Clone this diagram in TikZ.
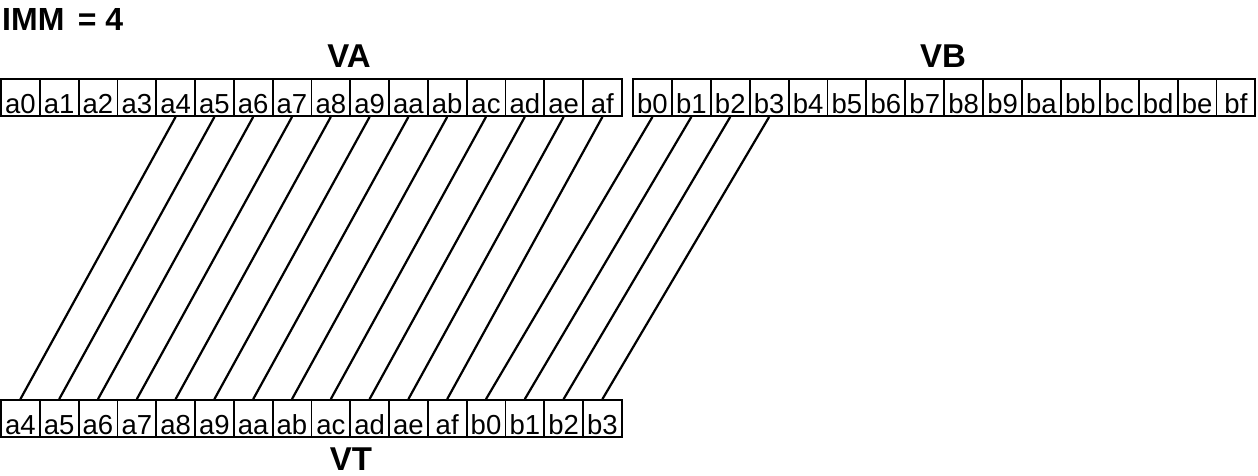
\documentclass[tikz,border=0pt]{standalone}
\usepackage{fontspec}
\setmainfont{Liberation Sans}
\usetikzlibrary{positioning}

\begin{document}
\begin{tikzpicture}[x=1pt,y=-1pt,
 cell/.style={draw,line width=1.8pt,minimum width=38.8pt,minimum height=37pt,inner sep=0pt,
   font=\fontsize{27.5}{32}\selectfont,text height=31pt,text depth=0pt},
 title/.style={font=\fontsize{33}{38}\selectfont\bfseries,anchor=base,inner sep=0pt,text depth=0pt},
 link/.style={line width=2.2pt}]
\useasboundingbox (0,0) rectangle (1258,475);
% source and result registers
\foreach \t [count=\i from 0] in {a0,a1,a2,a3,a4,a5,a6,a7,a8,a9,aa,ab,ac,ad,ae,af}
  \node[cell] (va\i) at ({1+38.8*(\i+0.5)},97.5) {\t};
\foreach \t [count=\i from 0] in {b0,b1,b2,b3,b4,b5,b6,b7,b8,b9,ba,bb,bc,bd,be,bf}
  \node[cell] (vb\i) at ({633+38.9*(\i+0.5)},97.5) {\t};
\foreach \t [count=\i from 0] in {a4,a5,a6,a7,a8,a9,aa,ab,ac,ad,ae,af,b0,b1,b2,b3}
  \node[cell] (vt\i) at ({1+38.8*(\i+0.5)},418.5) {\t};
% labels
\node[title,anchor=base west,font=\fontsize{32}{38}\selectfont\bfseries] (imm) at (2,30) {IMM\hspace{0.42em}= 4};
\node[title] (la) at (349,67) {VA};
\node[title] (lb) at (943,67) {VB};
\node[title] (lt) at (351,470) {VT};
% moved elements
\foreach \i [evaluate=\i as \k using int(\i-4)] in {4,...,15}
  \draw[link] (va\i.south) -- (vt\k.north);
\foreach \i [evaluate=\i as \k using int(\i+12)] in {0,...,3}
  \draw[link] (vb\i.south) -- (vt\k.north);
\end{tikzpicture}
\end{document}
